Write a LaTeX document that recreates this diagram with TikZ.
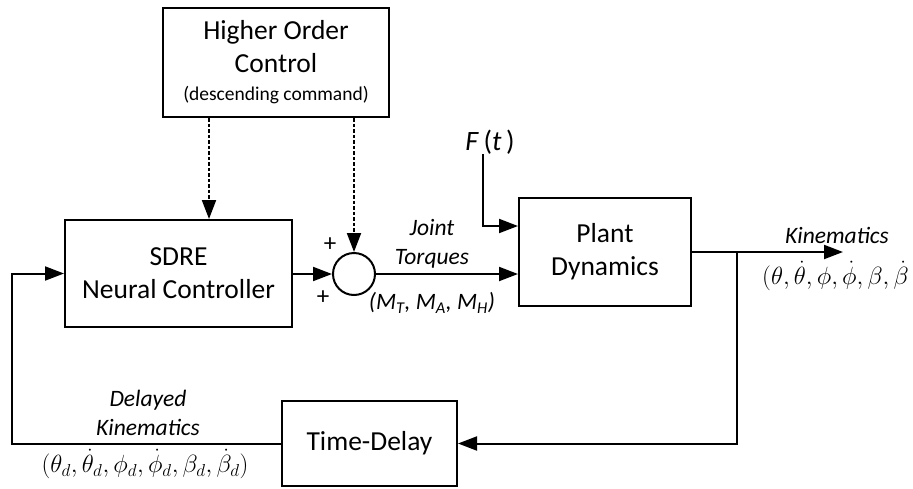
\documentclass[tikz,border=0pt]{standalone}
\usepackage{amsmath}
\usepackage{fontspec}
\setmainfont{Carlito}
\usetikzlibrary{arrows.meta}

\begin{document}
\begin{tikzpicture}[x=1pt,y=-1pt,
  block/.style={draw,line width=2pt,align=center,inner sep=0pt,font=\fontsize{27.5}{33}\selectfont},
  sumnode/.style={draw,circle,line width=2pt,minimum size=42pt,inner sep=0pt},
  arr/.style={line width=2pt,-{Triangle[length=19pt,width=14pt]}},
  dotarr/.style={arr,dash pattern=on 3.5pt off 2pt},
  lbl/.style={font=\fontsize{23.5}{29}\selectfont\itshape,align=center,inner sep=0pt},
  sgn/.style={font=\fontsize{25}{28}\selectfont,inner sep=0pt},
  tup/.style={font=\fontsize{24}{28}\selectfont,inner sep=0pt}]
\useasboundingbox (0,0) rectangle (913,488);

% blocks
\node[block,minimum width=226pt,minimum height=109pt] (hoc) at (276,62.5)
  {Higher Order\\Control\\[-5pt]{\fontsize{19.5}{24}\selectfont(descending command)}};
\node[block,minimum width=227pt,minimum height=107pt] (sdre) at (178.5,273.5) {SDRE\\Neural Controller};
\node[sumnode] (sum) at (354,274) {};
\node[block,minimum width=172pt,minimum height=108pt] (plant) at (605,252) {Plant\\Dynamics};
\node[block,minimum width=175pt,minimum height=85pt] (delay) at (369.5,443.5) {Time-Delay};

% labels
\node[sgn] (p1) at (330,245) {+};
\node[sgn] (p2) at (323,298) {+};
\node[font=\fontsize{28}{30}\selectfont,inner sep=0pt] (force) at (490,142) {\textit{F}\,(\textit{t}\,)};
\node[lbl] (jt) at (432,244) {Joint\\Torques};
\node[lbl] (mt) at (432,303) {(M\textsubscript{T}, M\textsubscript{A}, M\textsubscript{H})};
\node[lbl] (kin) at (837,235) {Kinematics};
\node[tup,anchor=west] (kout) at (762,276) {$(\theta,\dot{\theta},\phi,\dot{\phi},\beta,\dot{\beta}$};
\node[lbl] (dk) at (148,413) {Delayed\\Kinematics};
\node[tup] (dtup) at (145,464) {$(\theta_d,\dot{\theta}_d,\phi_d,\dot{\phi}_d,\beta_d,\dot{\beta}_d)$};

% connectors
\coordinate (cmd) at ([xshift=47pt]hoc.south west);
\coordinate (tap) at (737,252);
\coordinate (kend) at (843,252);
\coordinate (fb) at (12,443.5);
\draw[dotarr] (cmd) -- (cmd |- sdre.north);
\draw[dotarr] (sum.north |- hoc.south) -- (sum.north);
\draw[arr] (sdre.east |- sum.west) -- (sum.west);
\draw[arr] (sum.east) -- (sum.east -| plant.west);
\draw[arr] ([xshift=-7pt]force.south) |- ([yshift=26pt]plant.west);
\draw[arr] (plant.east) -- (kend);
\draw[arr] (tap) |- (delay.east);
\draw[arr] (delay.west) -- (fb) |- (sdre.west);
\end{tikzpicture}
\end{document}
